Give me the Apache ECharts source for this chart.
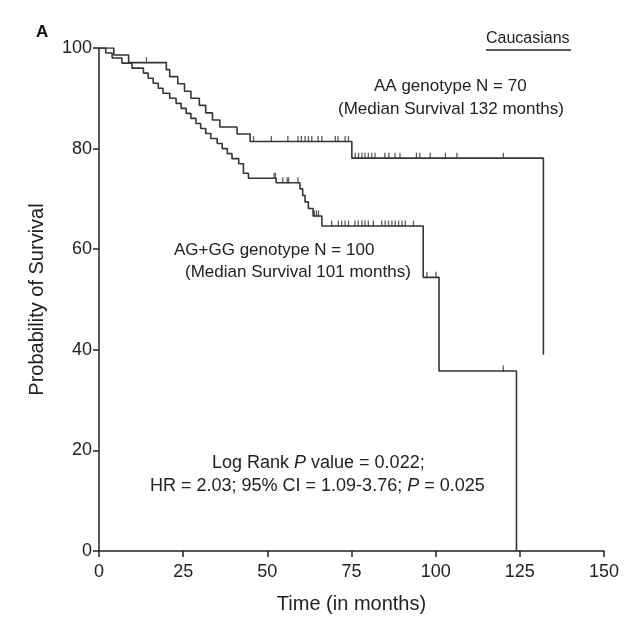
<!DOCTYPE html>
<html>
<head>
<meta charset="utf-8">
<script src="https://cdn.jsdelivr.net/npm/echarts@6/dist/echarts.min.js"></script>
<style>
  html, body { margin: 0; padding: 0; background: #fff; }
  #chart { width: 626px; height: 619px; }
</style>
</head>
<body>
<div id="chart"></div>
<script>
// Kaplan-Meier steps (months, % surviving)
const aaTime = [0, 4.4, 8.8, 20, 21, 23.4, 25.4, 27.3, 29.8, 31.7, 33.7, 35.9, 41, 44.9, 75.1, 132]
const aaSurv = [100, 98.6, 97.1, 95.7, 94.3, 92.9, 91.4, 90.0, 88.6, 87.1, 85.7, 84.3, 82.9, 81.4, 78.1, 39.0]
const aaCensored = [14.1, 45.9, 51.2, 56.1, 59.1, 60.1, 61.2, 62.2, 63.2, 65.1, 66.2, 70.2, 71.0, 73.1, 74.1,
  76.1, 77.1, 78.1, 79.0, 80.0, 81.0, 82.0, 84.9, 86.1, 87.9, 89.4, 94.3, 95.3, 98.4, 102.9, 106.3, 120.1]

const agTime = [0, 2, 3.9, 6.8, 9.8, 13.2, 14.6, 16.1, 17.6, 19, 21, 22.9, 24.4, 25.9, 27.3, 28.8, 30.2, 31.7,
  33.2, 35.1, 36.6, 38.1, 39.5, 41.5, 42.9, 44.4, 52.6, 59.7, 60.5, 61.2, 62.2, 63.6, 66.2, 96.3, 101, 124]
const agSurv = [100, 99, 98, 97, 96, 95, 94, 93, 92, 91, 90, 89, 88, 87, 86, 85, 84, 83,
  82, 81, 80, 79, 78, 77, 75.1, 74.1, 73.2, 72.0, 70.7, 69.4, 68.1, 66.6, 64.6, 54.4, 35.8, 0]
const agCensored = [52.0, 52.4, 54.6, 55.9, 56.3, 59.1, 64.0, 64.6, 65.2, 69.1, 71.1, 72.1, 73.1, 74.1, 76.0,
  77.0, 78.1, 79.0, 80.0, 81.5, 84.0, 85.0, 86.0, 87.0, 88.0, 89.0, 90.0, 91.0, 93.4, 97.4, 100.1, 120.1]

const xTicks = [0, 25, 50, 75, 100, 125, 150]
const yTicks = [0, 20, 40, 60, 80, 100]

const font = "'Liberation Sans', Arial, sans-serif"
const lineColor = '#353535'

const zip = (xs, ys) => xs.map((x, i) => [x, ys[i]])

// survival level at time t, so a censor mark sits on its curve
const survAt = (times, surv, t) => {
  let s = surv[0]
  times.forEach((tt, i) => { if (tt <= t) s = surv[i] })
  return s
}

const censorSeries = (times, surv, marks) => ({
  type: 'scatter',
  data: marks.map(t => [t, survAt(times, surv, t)]),
  symbol: 'rect',
  symbolSize: [1.3, 6],
  symbolOffset: [0, -2.5],
  itemStyle: { color: lineColor },
  silent: true,
  z: 3
})

const kmSeries = (times, surv) => ({
  type: 'line',
  step: 'end',
  data: zip(times, surv),
  showSymbol: false,
  lineStyle: { color: lineColor, width: 1.6 },
  silent: true,
  z: 2
})

const text = (left, top, str, extra) => ({
  type: 'text',
  left: left,
  top: top,
  style: Object.assign({ text: str, font: '17px ' + font, fill: '#222' }, extra || {})
})

const richText = (left, top, str) => ({
  type: 'text',
  left: left,
  top: top,
  style: {
    text: str,
    rich: {
      n: { font: '18px ' + font, fill: '#222' },
      i: { font: 'italic 18px ' + font, fill: '#222' }
    }
  }
})

const chart = echarts.init(document.getElementById('chart'))

chart.setOption({
  animation: false,
  grid: { left: 99, right: 22, top: 48, bottom: 66 },
  xAxis: {
    type: 'value',
    min: xTicks[0],
    max: xTicks[xTicks.length - 1],
    interval: 25,
    name: 'Time (in months)',
    nameLocation: 'middle',
    nameGap: 43,
    nameTextStyle: { fontFamily: font, fontSize: 20, color: '#222' },
    axisLine: { lineStyle: { color: '#222', width: 1.5 } },
    axisTick: { length: 6, lineStyle: { color: '#222', width: 1.5 } },
    axisLabel: { fontFamily: font, fontSize: 18, color: '#222', margin: 12 },
    splitLine: { show: false }
  },
  yAxis: {
    type: 'value',
    min: yTicks[0],
    max: yTicks[yTicks.length - 1],
    interval: 20,
    name: 'Probability of Survival',
    nameLocation: 'middle',
    nameGap: 52,
    nameTextStyle: { fontFamily: font, fontSize: 20, color: '#222' },
    axisLine: { show: true, lineStyle: { color: '#222', width: 1.5 } },
    axisTick: { show: true, length: 6, lineStyle: { color: '#222', width: 1.5 } },
    axisLabel: { fontFamily: font, fontSize: 18, color: '#222', margin: 7 },
    splitLine: { show: false }
  },
  graphic: [
    text(36, 24, 'A', { font: 'bold 17px ' + font, fill: '#111' }),
    text(486, 31, 'Caucasians', { font: '16px ' + font }),
    { type: 'line', shape: { x1: 486, y1: 50, x2: 571, y2: 50 }, style: { stroke: '#222', lineWidth: 1.3 } },
    text(374, 78, 'AA genotype N = 70'),
    text(338, 101, '(Median Survival 132 months)'),
    text(174, 242, 'AG+GG genotype N = 100'),
    text(185, 264, '(Median Survival 101 months)'),
    richText(212, 454, '{n|Log Rank }{i|P}{n| value = 0.022;}'),
    richText(150, 477, '{n|HR = 2.03; 95% CI = 1.09-3.76; }{i|P}{n| = 0.025}')
  ],
  series: [
    kmSeries(aaTime, aaSurv),
    kmSeries(agTime, agSurv),
    censorSeries(aaTime, aaSurv, aaCensored),
    censorSeries(agTime, agSurv, agCensored)
  ]
})
</script>
</body>
</html>
